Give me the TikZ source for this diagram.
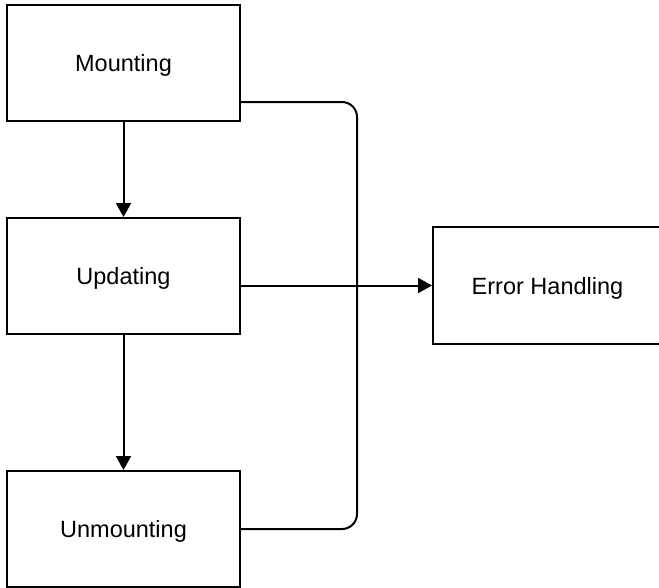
\documentclass[tikz,border=0pt]{standalone}
\usepackage{fontspec}
\setmainfont{Liberation Sans}
\usetikzlibrary{arrows.meta}
\begin{document}
\begin{tikzpicture}[x=1pt,y=1pt,
  box/.style={draw=black,line width=2pt,fill=white,minimum width=233pt,minimum height=116pt,inner sep=0pt,text height=22pt,text depth=5pt,font=\fontsize{23.5}{28}\selectfont},
  conn/.style={line width=2pt,draw=black},
  arr/.style={conn,-{Triangle[length=14pt,width=15pt]}}]
\clip (0,0) rectangle (659,-587);
\fill[white] (0,0) rectangle (659,-587);
\node[box] (mount) at (123.5,-63) {Mounting};
\node[box] (upd) at (123.5,-276) {Updating};
\node[box] (unm) at (123.5,-529) {Unmounting};
\node[box,minimum width=229pt,minimum height=117pt] (err) at (547.5,-285.5) {Error Handling};
\draw[arr] (mount.south) -- (upd.north);
\draw[arr] (upd.south) -- (unm.north);
\draw[conn,rounded corners=15pt] ([yshift=-39pt]mount.east) -| ([xshift=116pt]unm.east) -- (unm.east);
\draw[arr] (upd.east |- err.west) -- (err.west);
\end{tikzpicture}
\end{document}
